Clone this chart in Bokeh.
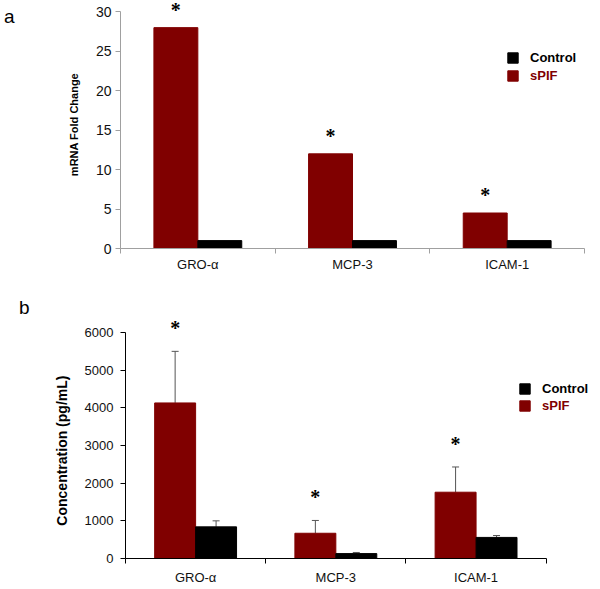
import numpy as np
from bokeh.plotting import figure
from bokeh.models import (Range1d, FixedTicker, ColumnDataSource, Whisker, TeeHead,
                          LabelSet, Legend, LegendItem, LinearAxis)
from bokeh.layouts import column, row
from bokeh.embed import file_html
from bokeh.resources import INLINE

# ---------------- data ----------------
categories = ["GRO-α", "MCP-3", "ICAM-1"]
series_names = ["Control", "sPIF"]
panel_labels = ["a", "b"]

# panel a: mRNA fold change
mrna_spif = [28.0, 12.0, 4.5]
mrna_control = [1.0, 1.0, 1.0]
mrna_sig = ["*", "*", "*"]
mrna_ticks = [0, 5, 10, 15, 20, 25, 30]

# panel b: concentration (pg/mL)
conc_spif = [4130, 670, 1760]
conc_spif_err = [1370, 340, 670]
conc_control = [840, 130, 560]
conc_control_err = [160, 30, 50]
conc_sig = ["*", "*", "*"]
conc_ticks = [0, 1000, 2000, 3000, 4000, 5000, 6000]

RED = "#800000"
BLACK = "#000000"
FONT = "Liberation Sans"


def base_fig(width, height, xmax, ymax, ybounds, ticks, border_left, border_right,
             border_bottom, axis_color, ylabel, tick_font, title_font, title_standoff,
             tick_standoff, xlab_standoff, tick_out):
    p = figure(width=width, height=height, output_backend="svg", toolbar_location=None,
               x_range=Range1d(0, xmax), y_range=Range1d(0, ymax),
               min_border_left=border_left, min_border_right=border_right,
               min_border_top=0, min_border_bottom=border_bottom, tools="")
    p.outline_line_color = None
    p.grid.visible = False
    p.background_fill_color = "white"
    p.border_fill_color = "white"

    centers = [i + 0.5 for i in range(len(categories))]
    xa = p.xaxis[0]
    xa.ticker = FixedTicker(ticks=centers, minor_ticks=list(range(len(categories) + 1)))
    xa.bounds = (0, len(categories))
    xa.major_label_overrides = {c: cat for c, cat in zip(centers, categories)}
    xa.major_tick_line_color = None
    xa.major_tick_out = 0
    xa.major_tick_in = 0
    xa.minor_tick_out = tick_out
    xa.minor_tick_in = 0
    xa.minor_tick_line_color = axis_color
    xa.axis_line_color = axis_color
    xa.major_label_text_font = FONT
    xa.major_label_text_font_size = "13px"
    xa.major_label_text_color = "#111111"
    xa.major_label_standoff = xlab_standoff

    ya = p.yaxis[0]
    ya.ticker = FixedTicker(ticks=ticks)
    ya.bounds = ybounds
    ya.minor_tick_line_color = None
    ya.major_tick_out = tick_out
    ya.major_tick_in = 0
    ya.major_tick_line_color = axis_color
    ya.axis_line_color = axis_color
    ya.major_label_text_font = FONT
    ya.major_label_text_font_size = tick_font
    ya.major_label_text_color = "#111111"
    ya.major_label_standoff = tick_standoff
    ya.axis_label = ylabel
    ya.axis_label_text_font = FONT
    ya.axis_label_text_font_style = "bold"
    ya.axis_label_text_font_size = title_font
    ya.axis_label_text_color = "#000000"
    ya.axis_label_standoff = title_standoff
    return p


def add_panel_label(p, text, yval, standoff):
    ax = LinearAxis(ticker=FixedTicker(ticks=[yval]), major_label_overrides={yval: text})
    ax.axis_line_color = None
    ax.major_tick_line_color = None
    ax.minor_tick_line_color = None
    ax.major_tick_out = 0
    ax.major_tick_in = 0
    ax.major_label_standoff = standoff
    ax.major_label_text_font = FONT
    ax.major_label_text_font_size = "19px"
    ax.major_label_text_color = "#000000"
    p.add_layout(ax, "left")


def add_bars(p, spif, control, w, spif_err=None, control_err=None, sig=None,
             star_offset=18):
    centers = np.arange(len(categories)) + 0.5
    xs = centers - w / 2
    xc = centers + w / 2
    s_src = ColumnDataSource(dict(x=xs, top=spif, cat=categories))
    c_src = ColumnDataSource(dict(x=xc, top=control, cat=categories))
    r_s = p.vbar(x="x", top="top", width=w, source=s_src, fill_color=RED, line_color=RED)
    r_c = p.vbar(x="x", top="top", width=w, source=c_src, fill_color=BLACK, line_color=BLACK)
    star_y = list(spif)
    if spif_err is not None:
        up_s = [v + e for v, e in zip(spif, spif_err)]
        up_c = [v + e for v, e in zip(control, control_err)]
        s_src.data["upper"] = up_s
        c_src.data["upper"] = up_c
        for src in (s_src, c_src):
            p.add_layout(Whisker(base="x", upper="upper", lower="top", source=src,
                                 dimension="height", line_color="#555555", line_width=1,
                                 upper_head=TeeHead(size=7, line_color="#555555", line_width=1),
                                 lower_head=None))
        star_y = up_s
    st_src = ColumnDataSource(dict(x=xs, y=star_y, text=sig))
    p.add_layout(LabelSet(x="x", y="y", text="text", source=st_src, y_offset=star_offset,
                          text_align="center", text_baseline="middle",
                          text_font=FONT, text_font_style="bold", text_font_size="20px",
                          text_color="#000000"))
    return r_s, r_c


def add_legend(p, r_s, r_c, x, y_ctrl, y_spif):
    for rend, name, col, yy in ((r_c, series_names[0], BLACK, y_ctrl),
                                (r_s, series_names[1], RED, y_spif)):
        lg = Legend(items=[LegendItem(label=name, renderers=[rend])], location=(x, yy),
                    glyph_width=13, glyph_height=13, label_standoff=11, padding=0,
                    margin=0, spacing=0, border_line_color=None, background_fill_alpha=0,
                    label_text_font=FONT, label_text_font_style="bold",
                    label_text_font_size="13px", label_text_color=col, label_height=13,
                    label_width=60)
        p.add_layout(lg, "center")


# ---------------- panel a ----------------
pa = base_fig(600, 280, 3.084, 31.44, (0, 30), mrna_ticks, 120, 3, 32, "#a0a0a0",
              "mRNA Fold Change", "14px", "11px", 13, 4, 3, 5)
ra_s, ra_c = add_bars(pa, mrna_spif, mrna_control, 0.284, sig=mrna_sig, star_offset=18)
add_legend(pa, ra_s, ra_c, 386, 183, 165)
add_panel_label(pa, panel_labels[0], 29.4, 50)

# ---------------- panel b ----------------
# trailing no-break spaces keep the rotated title centred on the 0-6000 axis span
pb = base_fig(600, 309, 3.366, 7381, (0, 6000), conc_ticks, 125, 3, 31, "#000000",
              "Concentration (pg/mL)" + "\u00a0" * 16, "13px", "14px", 12, 7, 6, 5)
rb_s, rb_c = add_bars(pb, conc_spif, conc_control, 0.292, conc_spif_err,
                      conc_control_err, sig=conc_sig, star_offset=23)
add_legend(pb, rb_s, rb_c, 393, 162, 145)
add_panel_label(pb, panel_labels[1], 6664, 21)

layout = column(row(pa), row(pb), spacing=0)
open("out.html", "w").write(file_html(layout, INLINE))
